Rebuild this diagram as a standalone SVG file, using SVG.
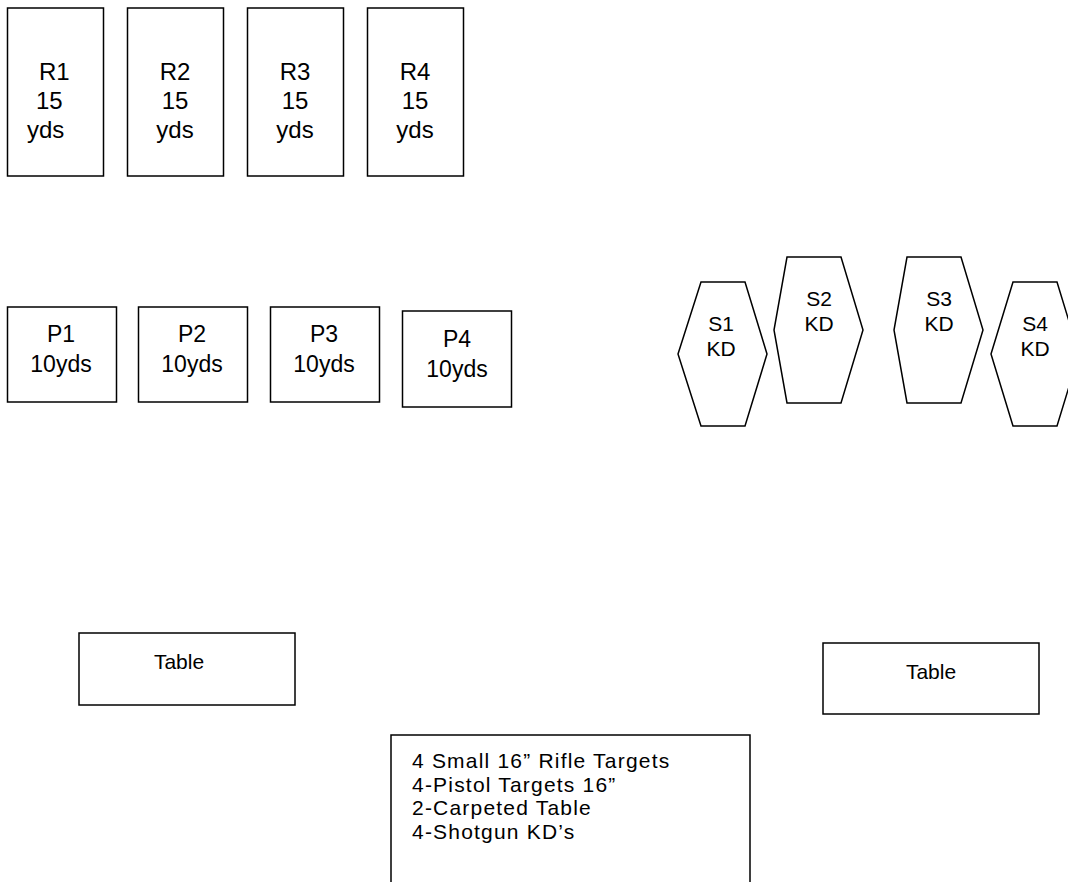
<svg xmlns="http://www.w3.org/2000/svg" width="1068" height="882" viewBox="0 0 1068 882">
<style>
.b{fill:#fff;stroke:#000;stroke-width:1.5}
.t{font-family:"Liberation Sans",Arial,sans-serif;fill:#000}
.r{font-size:24px}
.p{font-size:23px}
.s{font-size:21px}
.tb{font-size:21px}
.l{font-size:21px;letter-spacing:1.2px}
</style>
<rect width="1068" height="882" fill="#fff"/>
<g id="R1"><rect class="b" x="7.5" y="8" width="96" height="168"/>
<text class="t r" x="39" y="80">R1</text><text class="t r" x="36" y="109">15</text><text class="t r" x="27" y="138">yds</text></g>
<g id="R2"><rect class="b" x="127.5" y="8" width="96" height="168"/>
<text class="t r" x="175" y="80" text-anchor="middle">R2</text><text class="t r" x="175" y="109" text-anchor="middle">15</text><text class="t r" x="175" y="138" text-anchor="middle">yds</text></g>
<g id="R3"><rect class="b" x="247.5" y="8" width="96" height="168"/>
<text class="t r" x="295" y="80" text-anchor="middle">R3</text><text class="t r" x="295" y="109" text-anchor="middle">15</text><text class="t r" x="295" y="138" text-anchor="middle">yds</text></g>
<g id="R4"><rect class="b" x="367.5" y="8" width="96" height="168"/>
<text class="t r" x="415" y="80" text-anchor="middle">R4</text><text class="t r" x="415" y="109" text-anchor="middle">15</text><text class="t r" x="415" y="138" text-anchor="middle">yds</text></g>
<g id="P1"><rect class="b" x="7.5" y="307" width="109" height="95"/>
<text class="t p" x="61" y="342" text-anchor="middle">P1</text><text class="t p" x="61" y="372" text-anchor="middle">10yds</text></g>
<g id="P2"><rect class="b" x="138.5" y="307" width="109" height="95"/>
<text class="t p" x="192" y="342" text-anchor="middle">P2</text><text class="t p" x="192" y="372" text-anchor="middle">10yds</text></g>
<g id="P3"><rect class="b" x="270.5" y="307" width="109" height="95"/>
<text class="t p" x="324" y="342" text-anchor="middle">P3</text><text class="t p" x="324" y="372" text-anchor="middle">10yds</text></g>
<g id="P4"><rect class="b" x="402.5" y="311" width="109" height="96"/>
<text class="t p" x="457" y="347" text-anchor="middle">P4</text><text class="t p" x="457" y="377" text-anchor="middle">10yds</text></g>
<g id="S1"><polygon class="b" points="701,282 745,282 767,354 745,426 701,426 678,354"/>
<text class="t s" x="721" y="331" text-anchor="middle">S1</text><text class="t s" x="721" y="356" text-anchor="middle">KD</text></g>
<g id="S2"><polygon class="b" points="787,257 841,257 863,330 841,403 787,403 774,330"/>
<text class="t s" x="819" y="306" text-anchor="middle">S2</text><text class="t s" x="819" y="331" text-anchor="middle">KD</text></g>
<g id="S3"><polygon class="b" points="907,257 961,257 983,330 961,403 907,403 894,330"/>
<text class="t s" x="939" y="306" text-anchor="middle">S3</text><text class="t s" x="939" y="331" text-anchor="middle">KD</text></g>
<g id="S4"><polygon class="b" points="1013,282 1057,282 1079,354 1057,426 1013,426 991,354"/>
<text class="t s" x="1035" y="331" text-anchor="middle">S4</text><text class="t s" x="1035" y="356" text-anchor="middle">KD</text></g>
<g id="T1"><rect class="b" x="79" y="633" width="216" height="72"/>
<text class="t tb" x="179" y="669" text-anchor="middle">Table</text></g>
<g id="T2"><rect class="b" x="823" y="643" width="216" height="71"/>
<text class="t tb" x="931" y="679" text-anchor="middle">Table</text></g>
<g id="list"><path class="b" d="M391,884 V735 H750 V884"/>
<text class="t l" x="412" y="768">4 Small 16” Rifle Targets</text>
<text class="t l" x="412" y="791.5">4-Pistol Targets 16”</text>
<text class="t l" x="412" y="815">2-Carpeted Table</text>
<text class="t l" x="412" y="838.5">4-Shotgun KD’s</text></g>
<g id="connectors"/>
</svg>
